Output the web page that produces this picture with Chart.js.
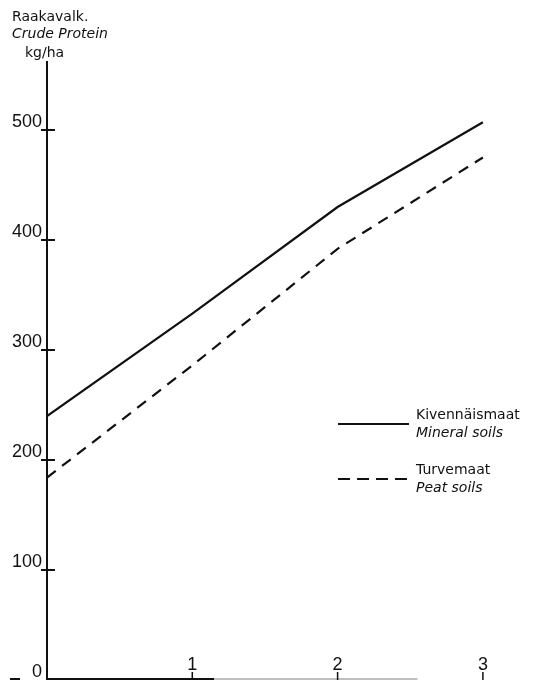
<!DOCTYPE html>
<html>
<head>
<meta charset="utf-8">
<script src="https://cdn.jsdelivr.net/npm/chart.js@4.4.1/dist/chart.umd.min.js"></script>
<style>
  html, body { margin: 0; padding: 0; background: #fff; }
  #wrap { width: 550px; height: 681px; position: relative; }
</style>
</head>
<body>
<div id="wrap"><canvas id="c" width="550" height="681"></canvas></div>
<script>
// Nitrogen application level (x) and crude protein yield, kg/ha
const levels = [0, 1, 2, 3];
const mineralSoils = [240, 333, 430, 507];
const peatSoils = [184, 286, 392, 475];
const yTicks = [0, 100, 200, 300, 400, 500];
const xTicks = [1, 2, 3];
const axisTitle = ['Raakavalk.', 'Crude Protein', 'kg/ha'];
const legendLabels = [
  ['Kivennäismaat', 'Mineral soils'],
  ['Turvemaat', 'Peat soils']
];

const FONT = '"DejaVu Sans", sans-serif';
const NUM_FONT = '"Liberation Sans", Arial, sans-serif';
const INK = '#111';

const axesPlugin = {
  id: 'handAxes',
  afterDraw(chart) {
    const ctx = chart.ctx;
    const xs = chart.scales.x, ys = chart.scales.y;
    const x0 = xs.getPixelForValue(0);
    const y0 = ys.getPixelForValue(0);
    ctx.save();
    ctx.strokeStyle = INK;
    ctx.lineWidth = 2;
    ctx.lineCap = 'butt';
    // vertical axis
    ctx.beginPath();
    ctx.moveTo(x0, ys.getPixelForValue(ys.max) - 3);
    ctx.lineTo(x0, y0);
    ctx.stroke();
    // horizontal axis
    ctx.beginPath();
    ctx.moveTo(x0 - 37, y0 - 1);
    ctx.lineTo(x0 - 27, y0 - 1);
    ctx.moveTo(x0, y0 - 1);
    ctx.lineTo(xs.getPixelForValue(1.15), y0 - 1);
    ctx.stroke();
    ctx.strokeStyle = '#aaa';
    ctx.lineWidth = 1.5;
    ctx.beginPath();
    ctx.moveTo(xs.getPixelForValue(1.15), y0 - 1);
    ctx.lineTo(xs.getPixelForValue(2.55), y0 - 1);
    ctx.stroke();
    ctx.strokeStyle = INK;
    ctx.lineWidth = 2;

    // y ticks crossing the axis, labels above-left
    ctx.font = '18px ' + NUM_FONT;
    ctx.fillStyle = INK;
    ctx.textAlign = 'right';
    ctx.textBaseline = 'alphabetic';
    yTicks.forEach(v => {
      const y = ys.getPixelForValue(v);
      if (v > 0) {
        ctx.beginPath();
        ctx.moveTo(x0 - 6, y);
        ctx.lineTo(x0 + 8, y);
        ctx.stroke();
      }
      ctx.fillText(String(v), x0 - 5, y - 3);
    });

    // x ticks rising from the axis
    ctx.textAlign = 'center';
    xTicks.forEach(v => {
      const x = xs.getPixelForValue(v);
      ctx.lineWidth = 1.5;
      ctx.beginPath();
      ctx.moveTo(x, y0);
      ctx.lineTo(x, y0 - 8);
      ctx.stroke();
      ctx.fillText(String(v), x, y0 - 10);
    });

    // axis title
    ctx.textAlign = 'left';
    ctx.font = '14px ' + FONT;
    ctx.fillText(axisTitle[0], 12, 21);
    ctx.font = 'italic 14px ' + FONT;
    ctx.fillText(axisTitle[1], 12, 38);
    ctx.font = '14px ' + FONT;
    ctx.fillText(axisTitle[2], 25, 57);

    // legend
    const lx = 338, lw = 71;
    const rows = [{ y: 424, dash: [] }, { y: 479, dash: [12, 7] }];
    rows.forEach((r, i) => {
      ctx.lineWidth = 2;
      ctx.setLineDash(r.dash);
      ctx.beginPath();
      ctx.moveTo(lx, r.y);
      ctx.lineTo(lx + lw, r.y);
      ctx.stroke();
      ctx.setLineDash([]);
      ctx.font = '14px ' + FONT;
      ctx.fillText(legendLabels[i][0], 416, r.y - 5);
      ctx.font = 'italic 14px ' + FONT;
      ctx.fillText(legendLabels[i][1], 416, r.y + 13);
    });
    ctx.restore();
  }
};

new Chart(document.getElementById('c'), {
  type: 'line',
  data: {
    datasets: [
      {
        label: legendLabels[0].join(' / '),
        data: levels.map((x, i) => ({ x, y: mineralSoils[i] })),
        borderColor: INK,
        borderWidth: 2.2,
        pointRadius: 0,
        tension: 0
      },
      {
        label: legendLabels[1].join(' / '),
        data: levels.map((x, i) => ({ x, y: peatSoils[i] })),
        borderColor: INK,
        borderWidth: 2.2,
        borderDash: [11, 8],
        pointRadius: 0,
        tension: 0
      }
    ]
  },
  options: {
    responsive: false,
    animation: false,
    layout: { padding: { left: 47, right: 9, top: 64, bottom: 1 } },
    plugins: { legend: { display: false }, tooltip: { enabled: false } },
    scales: {
      x: { type: 'linear', min: 0, max: 3.4, display: false },
      y: { type: 'linear', min: 0, max: 560, display: false }
    }
  },
  plugins: [axesPlugin]
});
</script>
</body>
</html>
